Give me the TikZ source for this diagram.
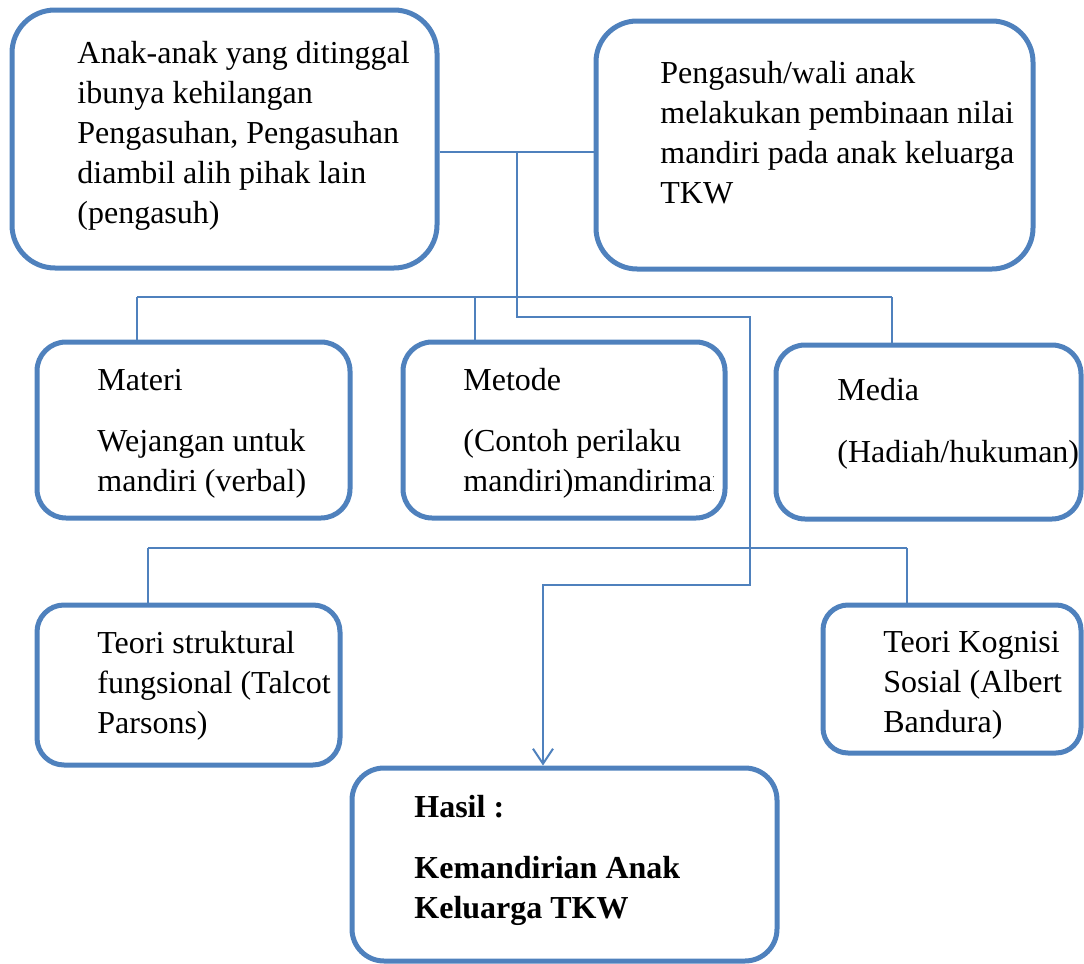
\documentclass[tikz,border=0pt]{standalone}
\usepackage{fontspec}
\setmainfont{Liberation Serif}
\usetikzlibrary{arrows.meta}
\definecolor{garis}{RGB}{79,129,189}

\begin{document}
\begin{tikzpicture}[x=0.5pt, y=-0.5pt,
    kotak/.style={draw=garis, line width=2.5pt, rounded corners=#1, inner sep=0pt},
    teks/.style={anchor=base west, align=left, inner sep=0pt, font=\fontsize{16}{20}\selectfont},
    hubung/.style={draw=garis, line width=1pt}]
  \useasboundingbox (0,0) rectangle (1084,964);
  % kotak atas
  \node[kotak=21.5pt, minimum width=212.5pt, minimum height=129pt] (anak) at (224.5,139) {};
  \node[kotak=20.5pt, minimum width=218.5pt, minimum height=124pt] (asuh) at (814.5,145) {};
  % kotak tengah
  \node[kotak=14.5pt, minimum width=156.5pt, minimum height=88pt] (materi) at (193.5,430) {};
  \node[kotak=14.5pt, minimum width=161pt, minimum height=88pt] (metode) at (564,430) {};
  \node[kotak=14.5pt, minimum width=152.5pt, minimum height=87pt] (media) at (928.5,432) {};
  % kotak teori
  \node[kotak=13.5pt, minimum width=151.5pt, minimum height=80pt] (struktur) at (188.5,685) {};
  \node[kotak=12.5pt, minimum width=129pt, minimum height=74pt] (kognisi) at (952,679) {};
  % hasil
  \node[kotak=16pt, minimum width=212.5pt, minimum height=96.5pt] (hasil) at (564.5,864.5) {};

  % teks (base = garis dasar baris terakhir)
  \node[teks] (anak-t) at (77,223) {Anak-anak yang ditinggal\\ ibunya kehilangan\\ Pengasuhan, Pengasuhan\\ diambil alih pihak lain\\ (pengasuh)};
  \node[teks] (asuh-t) at (660,203) {Pengasuh/wali anak\\ melakukan pembinaan nilai\\ mandiri pada anak keluarga\\ TKW};
  \node[teks] (materi-t) at (97,491) {Materi\\[10.5pt] Wejangan untuk\\ mandiri (verbal)};
  \begin{scope}
    \clip (403,342) rectangle (713,518);
    \node[teks] (metode-t) at (463,491) {Metode\\[10.5pt] (Contoh perilaku\\ mandiri)mandirimandiri};
  \end{scope}
  \node[teks] (media-t) at (837,462) {Media\\[11pt] (Hadiah/hukuman)};
  \node[teks] (struktur-t) at (97,733) {Teori struktural\\ fungsional (Talcot\\ Parsons)};
  \node[teks] (kognisi-t) at (883,732) {Teori Kognisi\\ Sosial (Albert\\ Bandura)};
  \node[teks, font=\fontsize{16}{20}\selectfont\bfseries] (hasil-t) at (414,918) {Hasil :\\[10.5pt] Kemandirian Anak\\ Keluarga TKW};

  % garis penghubung
  \coordinate (j0) at (517,152);
  \coordinate (j1) at (517,297);
  \coordinate (c1) at (137,297);
  \coordinate (c2) at (475,297);
  \coordinate (c3) at (892,297);
  \coordinate (d1) at (148,548);
  \coordinate (d2) at (907,548);
  \coordinate (k1) at (750,317);
  \coordinate (k2) at (543,585);
  \draw[hubung] (anak.east |- j0) -- (asuh.west |- j0);
  \draw[hubung] (j0) -- (j1);
  \draw[hubung] (c1) -- (c3);
  \draw[hubung] (c1) -- (c1 |- materi.north);
  \draw[hubung] (c2) -- (c2 |- metode.north);
  \draw[hubung] (c3) -- (c3 |- media.north);
  \draw[hubung] (d1) -- (d2);
  \draw[hubung] (d1) -- (d1 |- struktur.north);
  \draw[hubung] (d2) -- (d2 |- kognisi.north);
  \draw[hubung, -{Straight Barb[length=7.5pt, width=10pt]}] (j1) |- (k1) |- (k2) -- (k2 |- hasil.north);
\end{tikzpicture}
\end{document}
